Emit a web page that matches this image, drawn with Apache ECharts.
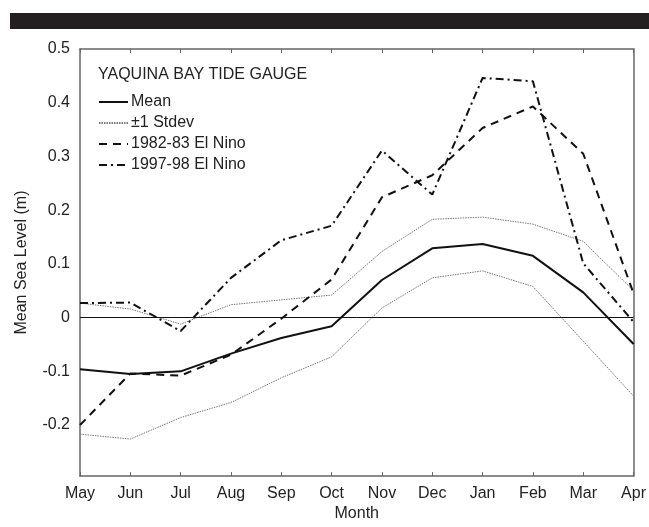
<!DOCTYPE html>
<html>
<head>
<meta charset="utf-8">
<script src="https://cdn.jsdelivr.net/npm/echarts@6/dist/echarts.min.js"></script>
<style>
  html, body { margin: 0; padding: 0; background: #fff; }
  #chart { width: 649px; height: 527px; }
</style>
</head>
<body>
<div id="chart"></div>
<script>
// Monthly mean sea level at the Yaquina Bay tide gauge (m)
const months = ['May', 'Jun', 'Jul', 'Aug', 'Sep', 'Oct', 'Nov', 'Dec', 'Jan', 'Feb', 'Mar', 'Apr'];
const meanLevel = [-0.096, -0.105, -0.100, -0.067, -0.038, -0.016, 0.070, 0.129, 0.137, 0.115, 0.047, -0.049];
const stdevUpper = [0.027, 0.016, -0.012, 0.024, 0.033, 0.042, 0.123, 0.183, 0.187, 0.174, 0.142, 0.050];
const stdevLower = [-0.217, -0.226, -0.186, -0.158, -0.112, -0.073, 0.018, 0.074, 0.087, 0.058, -0.044, -0.146];
const nino8283 = [-0.200, -0.104, -0.108, -0.069, -0.002, 0.071, 0.224, 0.265, 0.353, 0.393, 0.305, 0.045];
const nino9798 = [0.027, 0.028, -0.025, 0.074, 0.144, 0.171, 0.311, 0.229, 0.446, 0.440, 0.101, -0.008];
const yTicks = [-0.2, -0.1, 0, 0.1, 0.2, 0.3, 0.4, 0.5];

const FONT = "'Liberation Sans', Arial, Helvetica, sans-serif";
const TEXT = '#222';
const FRAME = '#666';

const chart = echarts.init(document.getElementById('chart'), null, { renderer: 'canvas' });

function lineSeries(name, data, color, width, type) {
  return {
    name: name,
    type: 'line',
    data: data,
    symbol: 'none',
    showSymbol: false,
    animation: false,
    lineStyle: { color: color, width: width, type: type },
    itemStyle: { color: color },
    z: 3
  };
}

const fmtY = v => (Math.abs(v) < 1e-9 ? '0' : String(Math.round(v * 10) / 10));

const option = {
  backgroundColor: '#fff',
  animation: false,
  textStyle: { fontFamily: FONT, color: TEXT },
  title: {
    text: 'YAQUINA BAY TIDE GAUGE',
    left: 98,
    top: 67,
    padding: 0,
    textStyle: { fontFamily: FONT, fontSize: 16, fontWeight: 'normal', color: TEXT }
  },
  legend: {
    orient: 'vertical',
    left: 98,
    top: 94,
    padding: 0,
    itemWidth: 29,
    itemHeight: 14,
    itemGap: 5,
    data: ['Mean', '±1 Stdev', '1982-83 El Nino', '1997-98 El Nino'],
    // line-only keys: the marker symbol is made invisible
    itemStyle: { color: 'transparent', borderColor: 'transparent', borderWidth: 0 },
    textStyle: { fontFamily: FONT, fontSize: 16, color: TEXT, padding: [0, 0, 0, -2] }
  },
  grid: { left: 80, right: 15, top: 49, bottom: 41, containLabel: false },
  graphic: [
    {
      type: 'rect',
      shape: { x: 10, y: 13, width: 639, height: 16 },
      style: { fill: '#231f20' },
      silent: true
    }
  ],
  xAxis: [
    {
      type: 'category',
      data: months,
      boundaryGap: false,
      position: 'bottom',
      name: 'Month',
      nameLocation: 'middle',
      nameGap: 27,
      nameTextStyle: { fontFamily: FONT, fontSize: 16, color: TEXT },
      axisLine: { onZero: false, lineStyle: { color: FRAME, width: 1.5 } },
      axisTick: { inside: true, length: 4, alignWithLabel: true, lineStyle: { color: FRAME } },
      axisLabel: { fontFamily: FONT, fontSize: 16, color: TEXT, margin: 9 },
      splitLine: { show: false }
    },
    {
      type: 'category',
      data: months,
      boundaryGap: false,
      position: 'top',
      axisLine: { onZero: false, lineStyle: { color: FRAME, width: 1.5 } },
      axisTick: { inside: true, length: 4, lineStyle: { color: FRAME } },
      axisLabel: { show: false },
      splitLine: { show: false }
    }
  ],
  yAxis: [
    {
      type: 'value',
      min: -0.295,
      max: 0.5,
      position: 'left',
      name: 'Mean Sea Level (m)',
      nameLocation: 'middle',
      nameGap: 50,
      nameRotate: 90,
      nameTextStyle: { fontFamily: FONT, fontSize: 16, color: TEXT },
      axisLine: { show: true, lineStyle: { color: FRAME, width: 1.5 } },
      axisTick: { inside: true, length: 4, customValues: yTicks, lineStyle: { color: FRAME } },
      axisLabel: { fontFamily: FONT, fontSize: 16, color: TEXT, margin: 10, customValues: yTicks, formatter: fmtY },
      splitLine: { show: false }
    },
    {
      type: 'value',
      min: -0.295,
      max: 0.5,
      position: 'right',
      axisLine: { show: true, lineStyle: { color: FRAME, width: 1.5 } },
      axisTick: { inside: true, length: 4, customValues: yTicks, lineStyle: { color: FRAME } },
      axisLabel: { show: false, customValues: yTicks },
      splitLine: { show: false }
    }
  ],
  series: [
    Object.assign(lineSeries('Mean', meanLevel, '#111', 2, 'solid'), {
      markLine: {
        silent: true,
        symbol: 'none',
        label: { show: false },
        lineStyle: { color: '#111', width: 1, type: 'solid' },
        data: [{ yAxis: 0 }],
        animation: false
      }
    }),
    lineSeries('±1 Stdev', stdevUpper, '#777', 1, [1.5, 1]),
    lineSeries('±1 Stdev', stdevLower, '#777', 1, [1.5, 1]),
    lineSeries('1982-83 El Nino', nino8283, '#111', 2, [8, 6]),
    lineSeries('1997-98 El Nino', nino9798, '#111', 2, [8, 4, 2, 4])
  ]
};

chart.setOption(option);
</script>
</body>
</html>
